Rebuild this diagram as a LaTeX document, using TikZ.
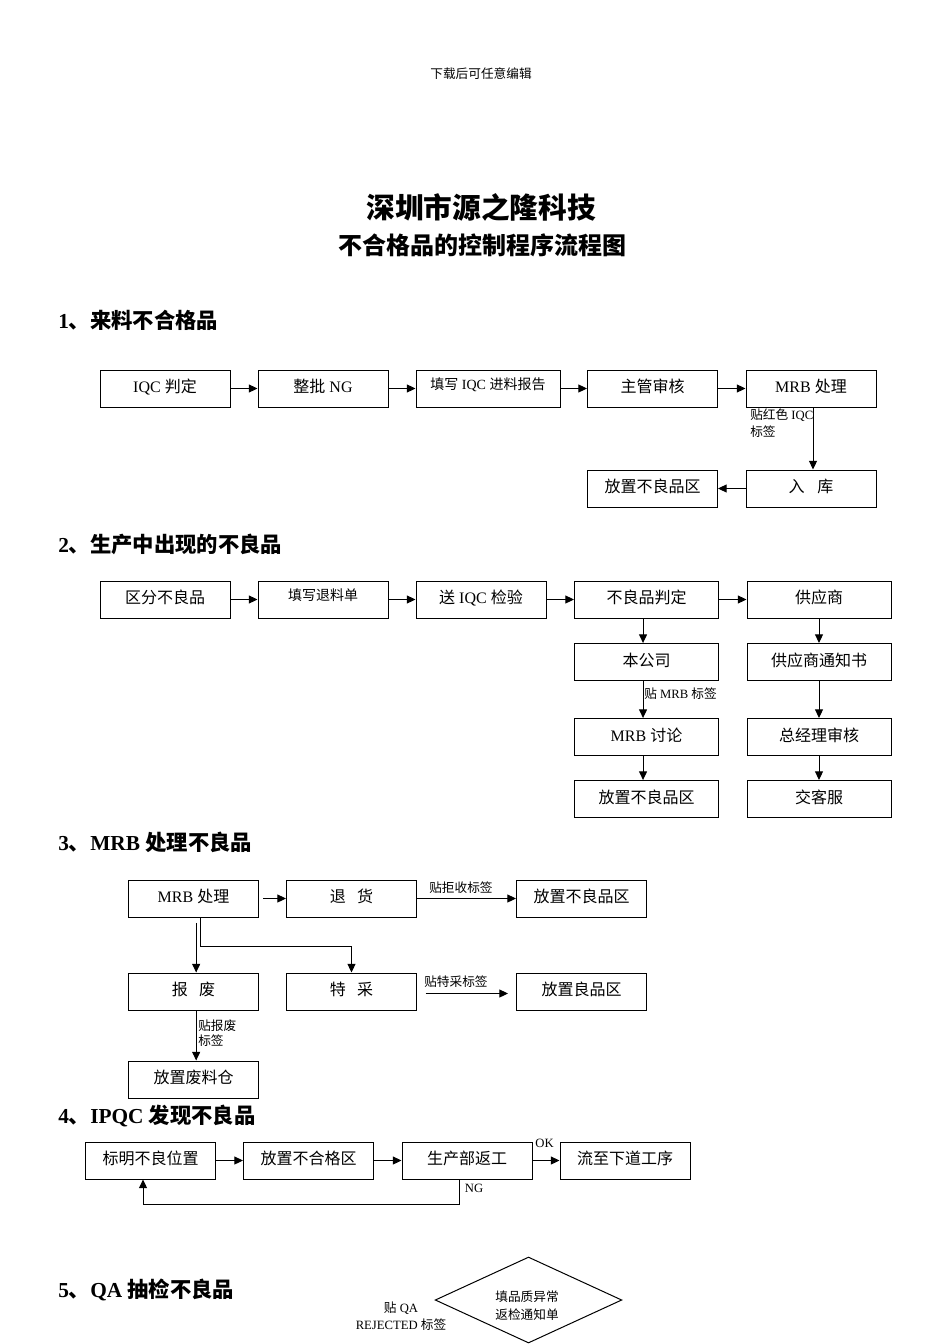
\documentclass[tikz,border=0pt]{standalone}
\usepackage{fontspec}
\setmainfont{Liberation Serif}
\newfontfamily\cjk{Noto Sans CJK SC}
\usetikzlibrary{arrows.meta,shapes.geometric}
\XeTeXinterchartokenstate=1
\newXeTeXintercharclass\CJKcls
\makeatletter
\count@="3000
\loop \XeTeXcharclass\count@=\CJKcls \ifnum\count@<"303F \advance\count@ by 1 \repeat
\count@="4E00
\loop \XeTeXcharclass\count@=\CJKcls \ifnum\count@<"9FFF \advance\count@ by 1 \repeat
\count@="FF00
\loop \XeTeXcharclass\count@=\CJKcls \ifnum\count@<"FFEF \advance\count@ by 1 \repeat
\makeatother
\XeTeXinterchartoks 0 \CJKcls = {\cjk}
\XeTeXinterchartoks 4095 \CJKcls = {\cjk}
\XeTeXinterchartoks \CJKcls 0 = {\rmfamily}
\XeTeXinterchartoks \CJKcls 4095 = {\rmfamily}
\begin{document}
\begin{tikzpicture}[x=0.75pt,y=-0.75pt,
  box/.style={draw, line width=0.75pt, minimum height=27.75pt, minimum width=97.5pt, inner sep=1pt, text height=10pt, text depth=4pt, font=\fontsize{12}{14}\selectfont},
  wbox/.style={box, minimum width=108pt},
  smalltxt/.style={font=\fontsize{10.5}{12}\selectfont},
  lab/.style={font=\fontsize{9.5}{12.75}\selectfont, inner sep=0pt, align=left},
  arr/.style={-{Triangle[length=6.5pt,width=6pt]}, line width=0.75pt},
  head/.style={anchor=west, inner sep=0pt, font=\fontsize{16}{18}\selectfont\bfseries}]
\useasboundingbox (0,0) rectangle (950,1344);
\fill[white] (0,0) rectangle (950,1344);
% header and titles
\node[lab] (hdr) at (481,74) {下载后可任意编辑};
\node[inner sep=0pt, font=\fontsize{21.5}{24}\selectfont\bfseries] (t1) at (481,207) {深圳市源之隆科技};
\node[inner sep=0pt, font=\fontsize{18}{20}\selectfont\bfseries] (t2) at (482,245) {不合格品的控制程序流程图};
% section 1
\node[head] (h1) at (58,320) {1、来料不合格品};
\node[box] (a1) at (165,388.5) {IQC 判定};
\node[box] (a2) at (323,388.5) {整批 NG};
\node[box, minimum width=108pt, smalltxt] (a3) at (488,388.5) {\raisebox{2pt}{填写 IQC 进料报告}};
\node[box] (a4) at (652.5,388.5) {主管审核};
\node[box] (a5) at (811,388.5) {MRB 处理};
\node[box] (a6) at (652.5,488.5) {放置不良品区};
\node[box] (a7) at (811,488.5) {入\hspace{0.8em}库};
\draw[arr] (a1) -- (a2);
\draw[arr] (a2) -- (a3);
\draw[arr] (a3) -- (a4);
\draw[arr] (a4) -- (a5);
\draw[arr] ([xshift=1.5pt]a5.south) -- ([xshift=1.5pt]a7.north);
\node[lab, anchor=west] (l1) at (750,423.5) {贴红色 IQC\\标签};
\draw[arr] (a7) -- (a6);
% section 2
\node[head] (h2) at (58,544) {2、生产中出现的不良品};
\node[box] (b1) at (165,599.5) {区分不良品};
\node[box, smalltxt] (b2) at (323,599.5) {\raisebox{2pt}{填写退料单}};
\node[box] (b3) at (481,599.5) {送 IQC 检验};
\node[wbox] (b4) at (646.5,599.5) {不良品判定};
\node[wbox] (b5) at (819,599.5) {供应商};
\node[wbox] (b6) at (646.5,662) {本公司};
\node[wbox] (b7) at (819,662) {供应商通知书};
\node[wbox] (b8) at (646.5,737) {MRB 讨论};
\node[wbox] (b9) at (819,737) {总经理审核};
\node[wbox] (b10) at (646.5,799) {放置不良品区};
\node[wbox] (b11) at (819,799) {交客服};
\draw[arr] (b1) -- (b2);
\draw[arr] (b2) -- (b3);
\draw[arr] (b3) -- (b4);
\draw[arr] (b4) -- (b5);
\draw[arr] ([xshift=-2.6pt]b4.south) -- ([xshift=-2.6pt]b6.north);
\draw[arr] ([xshift=-2.6pt]b6.south) -- ([xshift=-2.6pt]b8.north);
\draw[arr] ([xshift=-2.6pt]b8.south) -- ([xshift=-2.6pt]b10.north);
\draw[arr] (b5) -- (b7);
\draw[arr] (b7) -- (b9);
\draw[arr] (b9) -- (b11);
\node[lab, anchor=west] (l2) at (644,694) {贴 MRB 标签};
% section 3
\node[head] (h3) at (58,842) {3、MRB 处理不良品};
\node[box] (c1) at (193.5,898.5) {MRB 处理};
\node[box] (c2) at (351.5,898.5) {退\hspace{0.7em}货};
\node[box] (c3) at (581.5,898.5) {放置不良品区};
\node[box] (c4) at (193.5,991.5) {报\hspace{0.7em}废};
\node[box] (c5) at (351.5,991.5) {特\hspace{0.7em}采};
\node[box] (c6) at (581.5,991.5) {放置良品区};
\node[box] (c7) at (193.5,1079.5) {放置废料仓};
\draw[arr] ([xshift=3pt]c1.east) -- (c2.west);
\draw[arr] (c2) -- (c3);
\node[lab, anchor=west] (l3) at (429,888) {贴拒收标签};
\draw[arr] ([xshift=2pt,yshift=-4pt]c1.south) -- ([xshift=2pt]c4.north);
\draw[arr] ([xshift=5.6pt]c1.south) -- ++(0,29) -| (c5.north);
\draw[arr] ([xshift=6.5pt,yshift=-1.5pt]c5.east) -- ([xshift=-6pt,yshift=-1.5pt]c6.west);
\node[lab, anchor=west] (l4) at (424,982) {贴特采标签};
\draw[arr] ([xshift=2pt]c4.south) -- ([xshift=2pt]c7.north);
\node[lab, anchor=west, font=\fontsize{9.5}{11.25}\selectfont] (l5) at (198,1033.5) {贴报废\\标签};
% section 4
\node[head] (h4) at (58,1116) {4、IPQC 发现不良品};
\node[box] (d1) at (150.5,1160.5) {标明不良位置};
\node[box] (d2) at (308.5,1160.5) {放置不合格区};
\node[box] (d3) at (467,1160.5) {生产部返工};
\node[box] (d4) at (625,1160.5) {流至下道工序};
\draw[arr] (d1) -- (d2);
\draw[arr] (d2) -- (d3);
\draw[arr] (d3) -- (d4);
\node[lab] (ok) at (544.5,1143) {OK};
\draw[arr] ([xshift=-6pt]d3.south) -- ++(0,25) -| ([xshift=-5.6pt]d1.south);
\node[lab] (ng) at (474,1188) {NG};
% section 5
\node[head] (h5) at (58,1290) {5、QA 抽检不良品};
\node[diamond, draw, line width=0.75pt, minimum width=140pt, minimum height=64.5pt, inner sep=0pt] (e1) at (528.5,1300) {};
\node[lab, align=center, font=\fontsize{9.5}{13.5}\selectfont] (e1t) at (527,1306) {填品质异常\\返检通知单};
\node[lab, align=center] (e2) at (401,1316) {贴 QA\\REJECTED 标签};
\end{tikzpicture}
\end{document}
